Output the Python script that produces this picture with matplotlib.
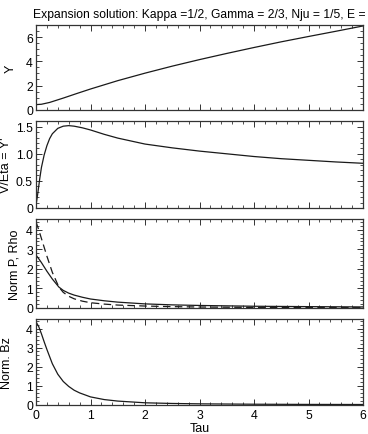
import matplotlib
matplotlib.use("Agg")
import matplotlib.pyplot as plt
from matplotlib.ticker import MultipleLocator, NullFormatter

plt.rcParams['font.family'] = ['Liberation Sans', 'DejaVu Sans']

# ---- data ----
tau_y = [0, 0.1, 0.25, 0.5, 0.75, 1, 1.5, 2, 2.5, 3, 3.5, 4, 4.5, 5, 5.5, 6]
Y = [0.42, 0.45, 0.6, 0.96, 1.34, 1.71, 2.4, 3.02, 3.6, 4.14, 4.65, 5.14, 5.61, 6.05, 6.48, 6.92]

tau_v = [0, 0.03, 0.07, 0.1, 0.15, 0.2, 0.25, 0.3, 0.4, 0.5, 0.6, 0.7, 0.85, 1.0,
         1.25, 1.5, 2, 2.5, 3, 3.5, 4, 4.5, 5, 5.5, 6]
V = [0.05, 0.25, 0.55, 0.75, 0.98, 1.15, 1.28, 1.37, 1.47, 1.51, 1.52, 1.51, 1.48, 1.44,
     1.36, 1.29, 1.18, 1.11, 1.05, 1.0, 0.95, 0.91, 0.88, 0.85, 0.825]

tau_p = [0, 0.05, 0.1, 0.15, 0.2, 0.3, 0.42, 0.5, 0.6, 0.7, 0.85, 1, 1.25, 1.5,
         2, 2.5, 3, 4, 5, 6]
P = [2.7, 2.52, 2.32, 2.1, 1.88, 1.48, 1.07, 0.9, 0.76, 0.66, 0.55, 0.46, 0.37,
     0.3, 0.21, 0.16, 0.13, 0.09, 0.07, 0.055]
Rho = [4.4, 4.0, 3.55, 3.1, 2.65, 1.82, 1.07, 0.8, 0.6, 0.47, 0.35, 0.27, 0.2,
       0.15, 0.1, 0.07, 0.05, 0.03, 0.02, 0.015]

tau_b = [0, 0.05, 0.1, 0.15, 0.2, 0.3, 0.4, 0.5, 0.6, 0.7, 0.8, 1, 1.25, 1.5,
         2, 2.5, 3, 4, 5, 6]
Bz = [4.35, 4.1, 3.72, 3.3, 2.9, 2.15, 1.6, 1.22, 0.96, 0.76, 0.62, 0.41, 0.27,
      0.19, 0.1, 0.065, 0.045, 0.025, 0.015, 0.01]

title = "Expansion solution: Kappa =1/2, Gamma = 2/3, Nju = 1/5, E ="
ylabels = ["Y", "V/Eta = Y'", "Norm P, Rho", "Norm. Bz"]
xlabel = "Tau"

# ---- layout ----
W, H = 368, 435
fig = plt.figure(figsize=(W / 100, H / 100), dpi=100)
left, right = 36, 363
panels_px = [(26, 110.7), (122.3, 209), (220, 309), (320, 405.7)]
axes = []
for top, bot in panels_px:
    ax = fig.add_axes([left / W, 1 - bot / H, (right - left) / W, (bot - top) / H])
    axes.append(ax)

lc = '#1a1a1a'
lw = 0.9

axes[0].plot(tau_y, Y, color=lc, lw=lw)
axes[1].plot(tau_v, V, color=lc, lw=lw)
axes[2].plot(tau_p, P, color=lc, lw=lw)
axes[2].plot(tau_p, Rho, color=lc, lw=lw, dashes=(6, 3.5))
axes[3].plot(tau_b, Bz, color=lc, lw=lw)

ylims = [(0, 7), (0, 1.6), (0, 4.55), (0, 4.5)]
ymaj = [2, 0.5, 1, 1]
ymin = [0.5, 0.1, 0.2, 0.2]
label_x = [-0.058, -0.073, -0.046, -0.069]

for i, ax in enumerate(axes):
    ax.set_xlim(0, 6)
    ax.set_ylim(*ylims[i])
    ax.xaxis.set_major_locator(MultipleLocator(1))
    ax.xaxis.set_minor_locator(MultipleLocator(0.2))
    ax.yaxis.set_major_locator(MultipleLocator(ymaj[i]))
    ax.yaxis.set_minor_locator(MultipleLocator(ymin[i]))
    ax.tick_params(which='both', direction='in', top=True, right=True,
                   colors='#333333', labelcolor='black', labelsize=8.8)
    ax.tick_params(which='major', length=4.5, width=0.7)
    ax.tick_params(which='minor', length=2.2, width=0.6)
    ax.tick_params(axis='y', pad=2.2)
    ax.tick_params(axis='x', pad=3)
    for s in ax.spines.values():
        s.set_linewidth(0.9)
        s.set_color('#333333')
    if i < 3:
        ax.xaxis.set_major_formatter(NullFormatter())
    if i == 1:
        ax.set_yticks([0, 0.5, 1.0, 1.5])
        ax.set_yticklabels(['0', '0.5', '1.0', '1.5'])
    ax.set_ylabel(ylabels[i], fontsize=9)
    ax.yaxis.set_label_coords(label_x[i], 0.5)

axes[3].set_xlabel(xlabel, fontsize=9, labelpad=1)

fig.text(33 / W, 1 - 18.3 / H, title, fontsize=8.7, ha='left', va='baseline')

fig.savefig("out.png", dpi=100)
